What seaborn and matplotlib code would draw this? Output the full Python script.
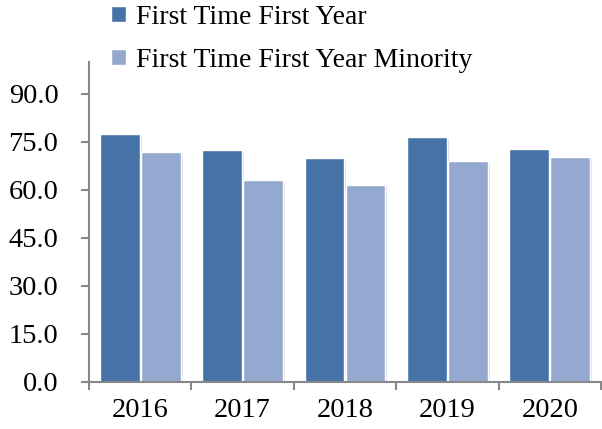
import matplotlib
matplotlib.use("Agg")
import matplotlib.pyplot as plt
import matplotlib.patheffects as pe
from matplotlib.ticker import FixedLocator, FormatStrFormatter
import seaborn as sns
import pandas as pd

years = ["2016", "2017", "2018", "2019", "2020"]
ftfy = [77.6, 72.6, 69.8, 76.5, 72.8]
ftfy_minority = [71.9, 63.2, 61.4, 69.1, 70.4]
series_names = ["First Time First Year", "First Time First Year Minority"]
colors = ["#4573A7", "#95A9D0"]
y_ticks = [0, 15, 30, 45, 60, 75, 90]

df = pd.DataFrame({
    "Year": years * 2,
    "Value": ftfy + ftfy_minority,
    "Series": [series_names[0]] * len(years) + [series_names[1]] * len(years),
})

sns.set_style("white")
plt.rcParams["font.family"] = ["Liberation Serif", "DejaVu Serif"]
plt.rcParams["text.color"] = "black"
plt.rcParams["xtick.color"] = "black"
plt.rcParams["ytick.color"] = "black"

fig = plt.figure(figsize=(6.02, 4.29), dpi=100)
ax = fig.add_axes([89 / 602, 1 - 381.5 / 429, 512 / 602, (381.5 - 62) / 429])

sns.barplot(data=df, x="Year", y="Value", hue="Series", palette=colors,
            saturation=1, width=0.8, gap=0.03, edgecolor="white", linewidth=1.0,
            ax=ax, legend=True)

for p in ax.patches:
    p.set_path_effects([pe.SimplePatchShadow(offset=(1.5, -1.5), shadow_rgbFace="#c8c8c8", alpha=0.6),
                        pe.Normal()])

ax.set_ylim(0, 100)
ax.set_xlim(-0.5, 4.5)
ax.yaxis.set_major_locator(FixedLocator(y_ticks))
ax.yaxis.set_major_formatter(FormatStrFormatter("%.1f"))
ax.set_xlabel("")
ax.set_ylabel("")

for s in ["top", "right"]:
    ax.spines[s].set_visible(False)
for s in ["left", "bottom"]:
    ax.spines[s].set_color("#888888")
    ax.spines[s].set_linewidth(1.5)

ax.tick_params(axis="y", which="major", length=6, width=1.5, color="#888888",
               labelcolor="black", labelsize=20.5, pad=16, left=True)
ax.tick_params(axis="x", which="major", length=0, labelsize=20.5, labelcolor="black", pad=12)
ax.xaxis.set_minor_locator(FixedLocator([i - 0.5 for i in range(len(years) + 1)]))
ax.tick_params(axis="x", which="minor", length=6, width=1.5, color="#888888", bottom=True)

handles, labels = ax.get_legend_handles_labels()
ax.get_legend().remove()
for h in handles:
    h.set_edgecolor("white")
    h.set_path_effects([])
fig.legend(handles, labels, loc="upper left", bbox_to_anchor=(108 / 602, 1 - 2 / 429),
           frameon=False, fontsize=20, handlelength=0.55, handleheight=0.55,
           handletextpad=0.35, labelspacing=0.65, borderaxespad=0.0, borderpad=0.1)

fig.savefig("out.png", dpi=100)
